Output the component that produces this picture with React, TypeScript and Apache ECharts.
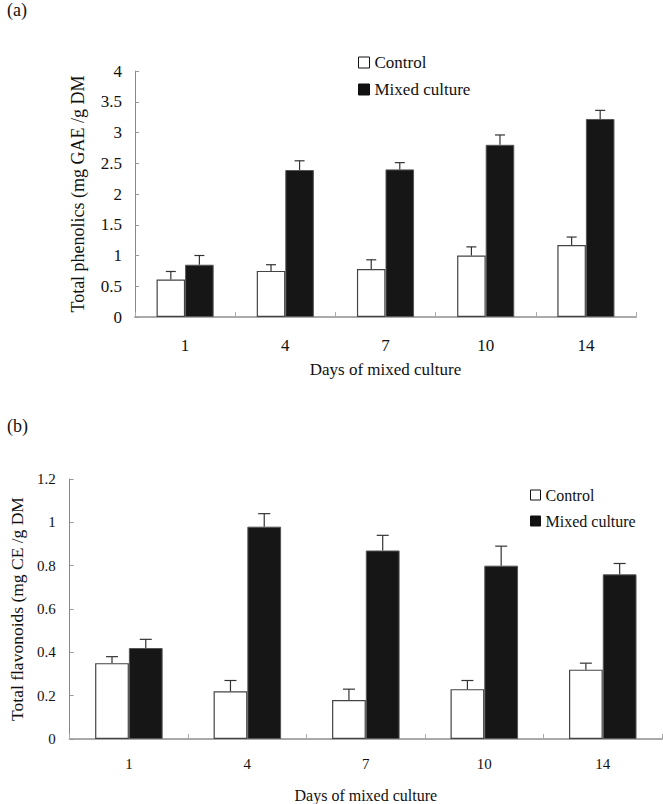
import React, { useEffect, useRef } from "react";
import * as echarts from "echarts";

const days = ["1", "4", "7", "10", "14"];

const phenolicsControl = [0.61, 0.75, 0.78, 1.0, 1.17];
const phenolicsControlSd = [0.13, 0.1, 0.15, 0.14, 0.13];
const phenolicsMixed = [0.85, 2.39, 2.4, 2.8, 3.22];
const phenolicsMixedSd = [0.15, 0.15, 0.11, 0.16, 0.14];

const flavonoidsControl = [0.35, 0.22, 0.18, 0.23, 0.32];
const flavonoidsControlSd = [0.03, 0.05, 0.05, 0.04, 0.03];
const flavonoidsMixed = [0.42, 0.98, 0.87, 0.8, 0.76];
const flavonoidsMixedSd = [0.04, 0.06, 0.07, 0.09, 0.05];

const FONT = "Liberation Serif";
const CAT_GAP = 0.43;

function errorSeries(values: number[], sd: number[], axis: number, side: number, capHalf: number) {
  return {
    type: "custom",
    xAxisIndex: axis,
    yAxisIndex: axis,
    z: 5,
    silent: true,
    data: values.map((v, i) => [i, v, sd[i]]),
    renderItem: (params: any, api: any) => {
      const idx = api.value(0);
      const v = api.value(1);
      const s = api.value(2);
      const catW = api.size([1, 0])[0];
      const bw = (catW * (1 - CAT_GAP)) / 2;
      const base = api.coord([idx, v]);
      const top = api.coord([idx, v + s]);
      const x = base[0] + (side * bw) / 2;
      const style = { stroke: "#333", lineWidth: 1.2 };
      return {
        type: "group",
        children: [
          { type: "line", shape: { x1: x, y1: base[1], x2: x, y2: top[1] }, style },
          { type: "line", shape: { x1: x - capHalf, y1: top[1], x2: x + capHalf, y2: top[1] }, style },
        ],
      };
    },
  };
}

export default function App() {
  const ref = useRef<HTMLDivElement>(null);
  useEffect(() => {
    if (!ref.current) return;
    const chart = echarts.init(ref.current, null, { renderer: "svg" });
    const xAxisCommon = (gridIndex: number, fs: number, margin: number, nameGap: number, nameFs: number) => ({
      type: "category",
      gridIndex,
      data: days,
      boundaryGap: true,
      axisLine: { lineStyle: { color: "#aaa", width: 2 } },
      axisTick: { show: true, inside: true, length: 5, interval: 0, lineStyle: { color: "#aaa" } },
      axisLabel: { color: "#111", fontFamily: FONT, fontSize: fs, margin },
      name: "Days of mixed culture",
      nameLocation: "middle",
      nameGap,
      nameTextStyle: { color: "#111", fontFamily: FONT, fontSize: nameFs },
    });
    const yAxisCommon = (
      gridIndex: number,
      max: number,
      interval: number,
      fs: number,
      margin: number,
      name: string,
      nameGap: number,
      nameFs: number
    ) => ({
      type: "value",
      gridIndex,
      min: 0,
      max,
      interval,
      splitLine: { show: false },
      axisLine: { show: true, lineStyle: { color: "#888", width: 1 } },
      axisTick: { show: true, inside: true, length: 4, lineStyle: { color: "#999" } },
      axisLabel: { color: "#111", fontFamily: FONT, fontSize: fs, margin },
      name,
      nameLocation: "middle",
      nameGap,
      nameTextStyle: { color: "#111", fontFamily: FONT, fontSize: nameFs },
    });
    const legendItems = (fs: number) => [
      {
        name: "Control",
        itemStyle: { color: "#fff", borderColor: "#111", borderWidth: 1 },
        textStyle: { color: "#111", fontFamily: FONT, fontSize: fs },
      },
      {
        name: "Mixed culture",
        itemStyle: { color: "#111", borderColor: "#111", borderWidth: 1 },
        textStyle: { color: "#111", fontFamily: FONT, fontSize: fs },
      },
    ];
    const barControl = (data: number[], axis: number) => ({
      type: "bar",
      name: "Control",
      xAxisIndex: axis,
      yAxisIndex: axis,
      data,
      barGap: "0%",
      barCategoryGap: CAT_GAP * 100 + "%",
      itemStyle: { color: "#fff", borderColor: "#444", borderWidth: 1.2 },
    });
    const barMixed = (data: number[], axis: number) => ({
      type: "bar",
      name: "Mixed culture",
      xAxisIndex: axis,
      yAxisIndex: axis,
      data,
      barGap: "0%",
      barCategoryGap: CAT_GAP * 100 + "%",
      itemStyle: { color: "#161616", borderColor: "#555", borderWidth: 1 },
    });
    chart.setOption({
      animation: false,
      textStyle: { fontFamily: FONT },
      grid: [
        { left: 135, top: 71, width: 501, height: 246 },
        { left: 58, top: 479, width: 604, height: 261 },
      ],
      xAxis: [xAxisCommon(0, 17, 20, 44, 17), xAxisCommon(1, 15, 17, 48, 16)],
      yAxis: [
        yAxisCommon(0, 4, 0.5, 17, 13, "Total phenolics (mg GAE /g DM", 48, 18),
        yAxisCommon(1, 1.2, 0.2, 15, 14, "Total flavonoids (mg CE /g DM", 41, 17.5),
      ],
      legend: [
        {
          orient: "vertical",
          left: 353,
          top: 49,
          icon: "rect",
          itemWidth: 11,
          itemHeight: 11,
          itemGap: 10,
          selectedMode: false,
          textStyle: { color: "#111", fontFamily: FONT, fontSize: 17 },
          data: legendItems(17),
        },
        {
          orient: "vertical",
          left: 525,
          top: 482,
          icon: "rect",
          itemWidth: 10,
          itemHeight: 10,
          itemGap: 10,
          selectedMode: false,
          textStyle: { color: "#111", fontFamily: FONT, fontSize: 16 },
          data: legendItems(16),
        },
      ],
      graphic: [
        { type: "text", left: 7, top: 1, style: { text: "(a)", fontFamily: FONT, fontSize: 18, fill: "#111" } },
        { type: "text", left: 7, top: 417, style: { text: "(b)", fontFamily: FONT, fontSize: 18, fill: "#111" } },
      ],
      series: [
        barControl(phenolicsControl, 0),
        barMixed(phenolicsMixed, 0),
        errorSeries(phenolicsControl, phenolicsControlSd, 0, -1, 5),
        errorSeries(phenolicsMixed, phenolicsMixedSd, 0, 1, 5),
        barControl(flavonoidsControl, 1),
        barMixed(flavonoidsMixed, 1),
        errorSeries(flavonoidsControl, flavonoidsControlSd, 1, -1, 6),
        errorSeries(flavonoidsMixed, flavonoidsMixedSd, 1, 1, 6),
      ],
    });
    return () => chart.dispose();
  }, []);
  return (
    <div
      ref={ref}
      style={{ position: "absolute", left: 0, top: 0, width: 663, height: 804, background: "#fff" }}
    />
  );
}
